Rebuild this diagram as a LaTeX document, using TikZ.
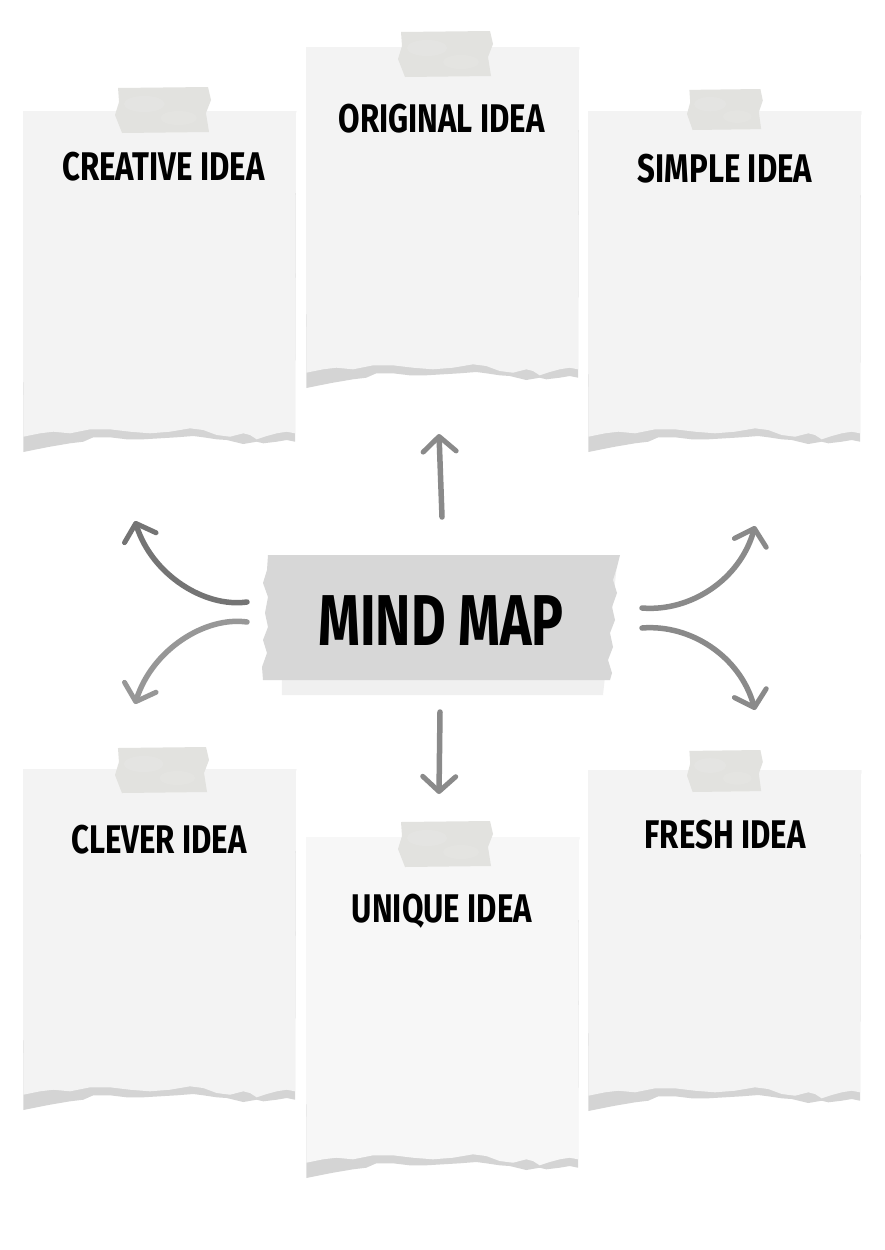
\documentclass[tikz,border=0pt]{standalone}
\usepackage{fontspec}
\setmainfont{Fira Sans}
\newfontfamily\hand{Fira Sans}[FakeStretch=0.78]
\newfontfamily\handt{Fira Sans}[FakeStretch=0.74]
\usetikzlibrary{arrows.meta}
\definecolor{notefill}{HTML}{F3F3F3}
\definecolor{notefillb}{HTML}{F7F7F7}
\definecolor{tornband}{HTML}{D4D4D4}
\definecolor{tapefill}{HTML}{E2E2DF}
\definecolor{maintape}{HTML}{D7D7D7}
\definecolor{mainshadow}{HTML}{F0F0F0}
\definecolor{arrowgray}{HTML}{8A8A8A}
\definecolor{arrowdark}{HTML}{747474}
\definecolor{arrowlight}{HTML}{979797}
\newcommand\notepaper[4]{%
\begin{scope}[shift={(#1,#2)}]
\fill[tornband] (0,-#3) -- (273,-#3) -- (272,-10.3) -- (263.7,-12) -- (253.7,-10.3) -- (240.3,-8.7) -- (233.7,-10.3) -- (220.3,-8) -- (203.7,-12) -- (193.7,-12.7) -- (180.3,-14.7) -- (170.3,-16) -- (153.7,-14.7) -- (137,-13.7) -- (120.3,-12.7) -- (103.7,-12.7) -- (87,-14.7) -- (70.3,-14.7) -- (60.3,-10.3) -- (47,-8.7) -- (27,-5.3) -- (13.7,-2.7) -- (0.3,0) -- cycle;
\fill[#4] (0,-#3) -- (273,-#3) -- (272,-18.7) -- (263.7,-20.3) -- (253.7,-18.7) -- (243.7,-16) -- (233.7,-12.7) -- (227,-17) -- (220.3,-18.7) -- (207,-15.3) -- (193.7,-17) -- (180.3,-22) -- (167,-23.7) -- (147,-20.3) -- (127,-18.7) -- (107,-20.3) -- (87,-22.7) -- (67,-22.7) -- (47,-18.7) -- (30.3,-20.3) -- (17,-18.7) -- (0.3,-15.3) -- cycle;
\end{scope}}
\newcommand\tapestrip[4]{%
\begin{scope}[shift={(#1,#2)}, xscale=#3/47, yscale=#4/23]
\fill[tapefill] (-44,-22) -- (45,-23) -- (48,-10) -- (43,3) -- (46,22) -- (-40,23) -- (-47,5) -- (-43,-8) -- cycle;
\fill[white,opacity=0.10] (-18,-6) ellipse (20 and 8);
\fill[white,opacity=0.08] (16,8) ellipse (18 and 7);
\end{scope}}
\tikzset{
  idea/.style={font=\hand\bfseries\fontsize{40}{40}\selectfont, text=black, inner sep=0pt, anchor=base},
  title/.style={font=\handt\bfseries\fontsize{72}{72}\selectfont, text=black, inner sep=0pt, anchor=base},
  arr/.style={line width=5.5pt, line cap=round, -{Straight Barb[length=15pt, width=33pt, line width=5pt, round]}},
}
\begin{document}
\begin{tikzpicture}[x=1pt,y=-1pt]
\useasboundingbox (0,0) rectangle (884,1250);
\fill[white] (0,0) rectangle (884,1250);

% notes
\notepaper{23}{452}{341}{notefill}
\notepaper{306}{388}{341}{notefill}
\notepaper{588}{452}{341}{notefill}
\notepaper{23}{1110}{341}{notefill}
\notepaper{306}{1178}{341}{notefillb}
\notepaper{588}{1111}{341}{notefill}

% tapes
\tapestrip{162.5}{110}{47.5}{23}
\tapestrip{445}{54}{47}{23}
\tapestrip{724.5}{109.5}{37.5}{20.5}
\tapestrip{161.5}{770}{46.5}{23}
\tapestrip{445}{844}{47}{23}
\tapestrip{724.5}{771}{37.5}{21}

% titles
\node[idea] (creative) at (163.5,180) {CREATIVE IDEA};
\node[idea] (original) at (441.5,132) {ORIGINAL IDEA};
\node[idea] (simple) at (725,182) {SIMPLE IDEA};
\node[idea] (clever) at (159,853) {CLEVER IDEA};
\node[idea] (unique) at (442,922) {UNIQUE IDEA};
\node[idea] (fresh) at (725,848) {FRESH IDEA};

% central tape
\fill[mainshadow] (280,560) -- (618,555) -- (603,695) -- (282,695) -- cycle;
\fill[maintape] (268,555) -- (620,555) -- (617,567) -- (613,580) -- (617,593) -- (612,607) -- (615,620) -- (610,633) -- (613,647) -- (608,660) -- (612,673) -- (610,680) -- (263,680) -- (262,667) -- (267,653) -- (263,640) -- (268,627) -- (265,613) -- (268,597) -- (263,583) -- (267,570) -- cycle;
\node[title] (mm) at (441,645) {MIND MAP};

% arrow anchors
\coordinate (sUL) at (247,602);
\coordinate (tUL) at (135,521);
\coordinate (sLL) at (247,622);
\coordinate (tLL) at (135,704);
\coordinate (sUR) at (642,608);
\coordinate (tUR) at (755,526);
\coordinate (sLR) at (642,628);
\coordinate (tLR) at (755,710);
\coordinate (sU) at (442,517);
\coordinate (tU) at (439,434);
\coordinate (sD) at (440,712);
\coordinate (tD) at (439,794);

\draw[arr, arrowdark] (sUL) .. controls (205,608) and (152,575) .. (tUL);
\draw[arr, arrowlight] (sLL) .. controls (205,616) and (152,650) .. (tLL);
\draw[arr, arrowgray] (sUR) .. controls (690,612) and (740,580) .. (tUR);
\draw[arr, arrowgray] (sLR) .. controls (690,624) and (740,656) .. (tLR);
\draw[arr, arrowgray] (sU) -- (tU);
\draw[arr, arrowgray] (sD) -- (tD);
\end{tikzpicture}
\end{document}
